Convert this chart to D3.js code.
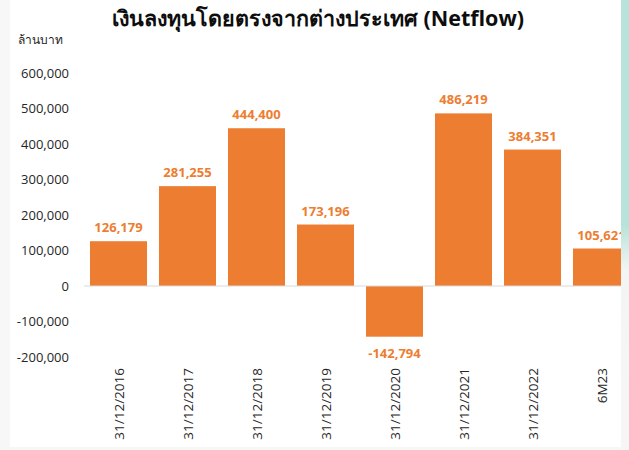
<!DOCTYPE html>
<html>
<head>
<meta charset="utf-8">
<script src="https://cdn.jsdelivr.net/npm/d3@7"></script>
<style>
body{margin:0;background:#fff;}
</style>
</head>
<body>
<div id="chart"></div>
<script>
var w = 629;
var h = 450;

// values
var categories = ["31/12/2016","31/12/2017","31/12/2018","31/12/2019","31/12/2020","31/12/2021","31/12/2022","6M23"];
var netflow = [126179, 281255, 444400, 173196, -142794, 486219, 384351, 105621];
var yTicks = [-200000,-100000,0,100000,200000,300000,400000,500000,600000];

var title = "เงินลงทุนโดยตรงจากต่างประเทศ (Netflow)";
var unit = "ล้านบาท";
var orange = "#ED7D31";
var font = "'Open Sans','Noto Sans',sans-serif";

var svg = d3.select("#chart")
	.append("svg")
	.attr("width", w)
	.attr("height", h)
	.style("font-family", font);

// faint page edges
svg.append("rect").attr("x",0).attr("y",0).attr("width",10).attr("height",h).attr("fill","#f6f7f6");
svg.append("rect").attr("x",0).attr("y",447).attr("width",w).attr("height",3).attr("fill","#f6f7f6");

var xscale = d3.scaleBand()
	.domain(categories)
	.range([84, 84 + 69*categories.length])
	.paddingInner(0.174)
	.paddingOuter(0.087);

var yscale = d3.scaleLinear()
	.domain([-200000, 600000])
	.range([357, 73]);

// plain hyphen for negatives, like the original
var fmt = d3.formatLocale({decimal:".", thousands:",", grouping:[3], currency:["",""], minus:"-"}).format(",");

// y axis labels
var yAxis = d3.axisLeft(yscale).tickValues(yTicks).tickFormat(fmt).tickSize(0).tickPadding(0);
var yg = svg.append("g").attr("transform","translate(69,0)").call(yAxis);
yg.select(".domain").remove();
yg.selectAll("text").attr("font-size",13).attr("fill","#262626").attr("font-family",font);

// bars
svg.selectAll("rect.bar")
	.data(netflow)
	.enter().append("rect")
	.attr("class","bar")
	.attr("x", function(d,i){return xscale(categories[i]);})
	.attr("y", function(d){return yscale(Math.max(0,d));})
	.attr("width", xscale.bandwidth())
	.attr("height", function(d){return Math.abs(yscale(d)-yscale(0));})
	.attr("fill", orange);

// zero line
svg.append("line")
	.attr("x1",84).attr("x2",w)
	.attr("y1",yscale(0)).attr("y2",yscale(0))
	.attr("stroke","#d9d9d9").attr("stroke-width",1);

// value labels
svg.selectAll("text.val")
	.data(netflow)
	.enter().append("text")
	.attr("class","val")
	.attr("x", function(d,i){return xscale(categories[i]) + xscale.bandwidth()/2;})
	.attr("y", function(d){return d>=0 ? yscale(d)-9 : yscale(d)+21;})
	.attr("text-anchor","middle")
	.attr("font-size",13)
	.attr("font-weight","bold")
	.attr("fill",orange)
	.text(function(d){return fmt(d);});

// category labels, rotated
svg.selectAll("text.cat")
	.data(categories)
	.enter().append("text")
	.attr("class","cat")
	.attr("transform", function(d){return "translate(" + (xscale(d)+xscale.bandwidth()/2+5) + ",368) rotate(-90)";})
	.attr("text-anchor","end")
	.attr("font-size",13.5)
	.attr("fill","#262626")
	.text(function(d){return d;});

// title + unit
svg.append("text")
	.attr("x",318).attr("y",26)
	.attr("text-anchor","middle")
	.attr("font-size",21.5)
	.attr("font-weight","bold")
	.attr("fill","#0d0d0d")
	.text(title);

svg.append("text")
	.attr("x",18).attr("y",44)
	.attr("font-size",12)
	.attr("fill","#262626")
	.text(unit);

// teal strip at right edge (clips last bar)
var grad = svg.append("defs").append("linearGradient")
	.attr("id","edge").attr("x1",0).attr("x2",0).attr("y1",0).attr("y2",1);
grad.append("stop").attr("offset","0").attr("stop-color","#b8e3da");
grad.append("stop").attr("offset","0.5").attr("stop-color","#b8e3da");
grad.append("stop").attr("offset","0.6").attr("stop-color","#f3f5f4");
grad.append("stop").attr("offset","1").attr("stop-color","#f6f6f6");
svg.append("rect").attr("x",621).attr("y",0).attr("width",8).attr("height",h).attr("fill","url(#edge)");
</script>
</body>
</html>
